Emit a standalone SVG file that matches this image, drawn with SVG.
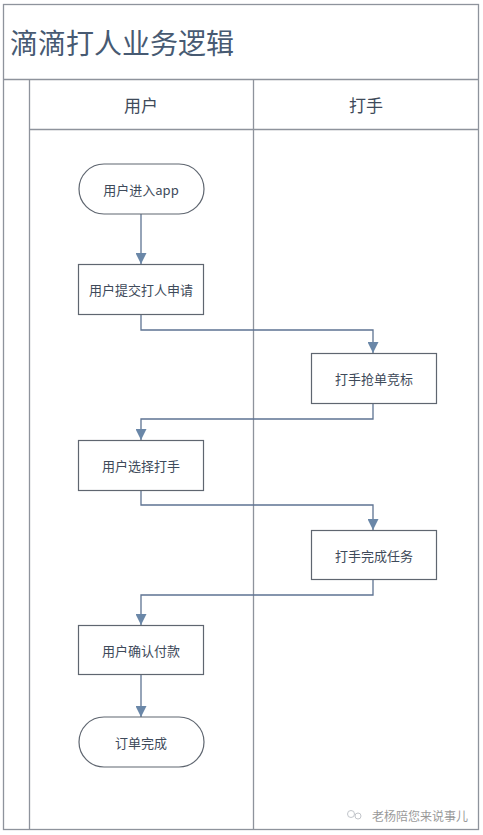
<svg xmlns="http://www.w3.org/2000/svg" width="483" height="835" viewBox="0 0 483 835">
<style>
.frame{fill:none;stroke:#8e939c;stroke-width:1.3}
.node{fill:#ffffff;stroke:#5f6670;stroke-width:1.2}
.lbl{font-family:"Noto Sans CJK SC","Liberation Sans",sans-serif;font-size:13px;fill:#3e4a5a;text-anchor:middle;dominant-baseline:central}
.hdr{font-family:"Noto Sans CJK SC","Liberation Sans",sans-serif;font-size:17px;fill:#3e4a5a;text-anchor:middle;dominant-baseline:central}
.conn{fill:none;stroke:#5e7392;stroke-width:1.3}
</style>
<defs>
<marker id="ah" viewBox="0 0 10 10" refX="10" refY="5" markerWidth="11" markerHeight="11" markerUnits="userSpaceOnUse" orient="auto">
<path d="M0,0 L10,5 L0,10 z" fill="#6a87a8"/>
</marker>
</defs>
<rect width="483" height="835" fill="#ffffff"/>
<g id="pool">
<rect class="frame" x="3.5" y="4.5" width="475" height="825"/>
<line class="frame" x1="3.5" y1="79.5" x2="478.5" y2="79.5"/>
<line class="frame" x1="29.5" y1="79.5" x2="29.5" y2="829.5"/>
<line class="frame" x1="29.5" y1="129.5" x2="478.5" y2="129.5"/>
<line class="frame" x1="253.5" y1="79.5" x2="253.5" y2="829.5"/>
<text x="10" y="42" font-family="Noto Sans CJK SC,Liberation Sans,sans-serif" font-size="28" fill="#475a72" dominant-baseline="central">滴滴打人业务逻辑</text>
<text class="hdr" x="141" y="104">用户</text>
<text class="hdr" x="366" y="104">打手</text>
</g>
<g id="connectors">
<path class="conn" d="M141,214 V264" marker-end="url(#ah)"/>
<path class="conn" d="M141,314 V330 H373 V353" marker-end="url(#ah)"/>
<path class="conn" d="M373,403 V419 H141 V440" marker-end="url(#ah)"/>
<path class="conn" d="M141,490 V505 H373 V530" marker-end="url(#ah)"/>
<path class="conn" d="M373,579 V595 H141 V625" marker-end="url(#ah)"/>
<path class="conn" d="M141,674 V717" marker-end="url(#ah)"/>
</g>
<g id="n1"><rect class="node" x="79" y="164" width="125" height="50" rx="25"/><text class="lbl" x="141" y="189">用户进入app</text></g>
<g id="n2"><rect class="node" x="78.5" y="264.5" width="125" height="50"/><text class="lbl" x="141" y="289">用户提交打人申请</text></g>
<g id="n3"><rect class="node" x="311.5" y="353.5" width="125" height="50"/><text class="lbl" x="374" y="378">打手抢单竞标</text></g>
<g id="n4"><rect class="node" x="78.5" y="440.5" width="125" height="50"/><text class="lbl" x="141" y="465">用户选择打手</text></g>
<g id="n5"><rect class="node" x="311.5" y="530.5" width="125" height="49"/><text class="lbl" x="374" y="555">打手完成任务</text></g>
<g id="n6"><rect class="node" x="78.5" y="625.5" width="125" height="49"/><text class="lbl" x="141" y="650">用户确认付款</text></g>
<g id="n7"><rect class="node" x="79" y="717" width="125" height="50" rx="25"/><text class="lbl" x="141" y="742">订单完成</text></g>
<g id="watermark" opacity="0.6">
<circle cx="351" cy="814" r="3.5" fill="none" stroke="#9aa0a8" stroke-width="1"/>
<circle cx="358" cy="816" r="3" fill="none" stroke="#9aa0a8" stroke-width="1"/>
<text x="372" y="815" font-family="Noto Sans CJK SC,Liberation Sans,sans-serif" font-size="12" fill="#555" dominant-baseline="central">老杨陪您来说事儿</text>
</g>
</svg>
